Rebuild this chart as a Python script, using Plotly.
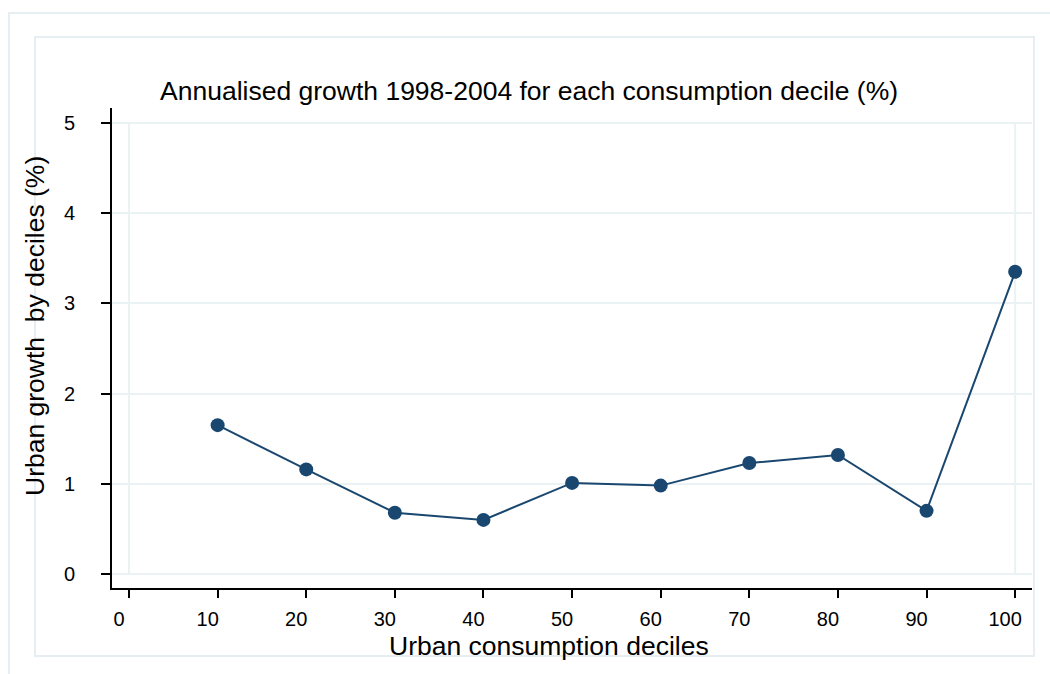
import plotly.graph_objects as go

deciles = [10, 20, 30, 40, 50, 60, 70, 80, 90, 100]
growth = [1.65, 1.16, 0.68, 0.60, 1.01, 0.98, 1.23, 1.32, 0.70, 3.35]
x_ticks = [0, 10, 20, 30, 40, 50, 60, 70, 80, 90, 100]
y_ticks = [0, 1, 2, 3, 4, 5]

title_text = "Annualised growth 1998-2004 for each consumption decile (%)"
x_title = "Urban consumption deciles"
y_title = "Urban growth  by deciles (%)"

W, H = 1050, 674
L, R, T, B = 112, 18, 108, 86
PW, PH = W - L - R, H - T - B

def px(xp):
    return (xp - L) / PW

def py(yp):
    return (H - B - yp) / PH

navy = "#1a476f"
grid = "#eaf2f3"
frame = "#e6eef1"

fig = go.Figure()
fig.add_trace(go.Scatter(
    x=deciles, y=growth, mode="lines+markers",
    line=dict(color=navy, width=2),
    marker=dict(color=navy, size=14, symbol="circle"),
    showlegend=False,
))

shapes = []
shapes.append(dict(type="rect", xref="paper", yref="paper",
                   x0=px(9), x1=px(1060), y0=py(13), y1=py(690),
                   line=dict(color=frame, width=2), layer="below"))
shapes.append(dict(type="rect", xref="paper", yref="paper",
                   x0=px(35), x1=px(1034), y0=py(37), y1=py(656),
                   line=dict(color=frame, width=2), layer="below"))
for xv in (0, 100):
    shapes.append(dict(type="line", xref="x", yref="y", x0=xv, x1=xv, y0=0, y1=5,
                       line=dict(color=grid, width=2), layer="below"))

annotations = [
    dict(text=title_text, xref="paper", yref="paper", x=px(529), y=py(91),
         xanchor="center", yanchor="middle", showarrow=False,
         font=dict(size=26.5, color="black")),
    dict(text=x_title, xref="paper", yref="paper", x=px(549), y=py(646),
         xanchor="center", yanchor="middle", showarrow=False,
         font=dict(size=26.5, color="black")),
    dict(text=y_title, xref="paper", yref="paper", x=px(35), y=py(326),
         xanchor="center", yanchor="middle", showarrow=False, textangle=-90,
         font=dict(size=26.5, color="black")),
]

fig.update_layout(
    width=W, height=H,
    margin=dict(l=L, r=R, t=T, b=B),
    paper_bgcolor="white", plot_bgcolor="white",
    font=dict(family="Liberation Sans, Arial, sans-serif", color="black", size=20),
    shapes=shapes,
    annotations=annotations,
    xaxis=dict(range=[-1.92, 101.9], tickvals=x_ticks, showgrid=False, zeroline=False,
               showline=True, linecolor="black", linewidth=2,
               ticks="outside", ticklen=8, tickwidth=2, tickcolor="black",
               tickfont=dict(size=20), ticklabelstandoff=4, ticklabelshift=-10),
    yaxis=dict(range=[-0.155, 5.166], tickvals=y_ticks, showgrid=True, gridcolor=grid,
               gridwidth=2, zeroline=False,
               showline=True, linecolor="black", linewidth=2,
               ticks="outside", ticklen=9, tickwidth=2, tickcolor="black",
               tickfont=dict(size=20), ticklabelstandoff=22),
)

fig.write_html("out.html")
